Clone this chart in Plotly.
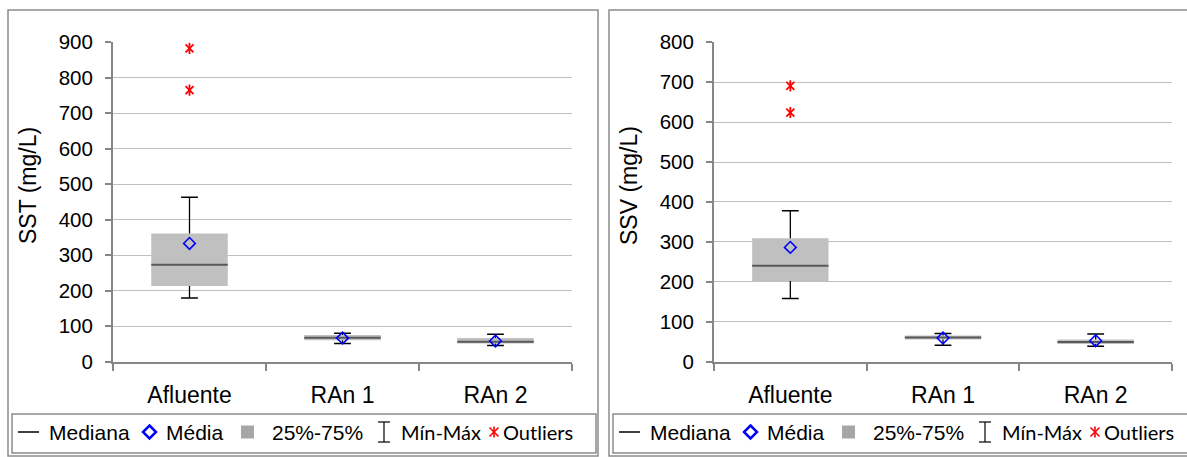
import plotly.graph_objects as go

W, H = 1187, 457

categories = ["Afluente", "RAn 1", "RAn 2"]

# SST (mg/L)
sst_min = [179, 51, 45]
sst_q1 = [213, 60, 51]
sst_median = [273, 67, 56]
sst_q3 = [361, 75, 66]
sst_max = [463, 80, 77]
sst_mean = [333, 66, 58]
sst_outliers = [[883, 765], [], []]

# SSV (mg/L)
ssv_min = [158, 41, 38]
ssv_q1 = [202, 55, 44]
ssv_median = [240, 60, 49]
ssv_q3 = [309, 65, 55]
ssv_max = [378, 70, 69]
ssv_mean = [286, 59, 52]
ssv_outliers = [[691, 624], [], []]

y_titles = ["SST (mg/L)", "SSV (mg/L)"]
y_ranges = [900, 800]
legend_labels = ["Mediana", "Média", "25%-75%", "Mín-Máx", "Outliers"]

BOX_W = 0.5


def px(x):
    return x / W


def py(y):
    return 1 - y / H


fig = go.Figure()


def add_chart(xa, ya, mn, q1, med, q3, mx, mean, outl):
    idx = list(range(len(categories)))
    # box 25%-75%
    fig.add_trace(go.Bar(x=idx, y=[b - a for a, b in zip(q1, q3)], base=q1,
                         width=BOX_W, marker=dict(color="#c0c0c0", line=dict(width=0)),
                         xaxis=xa, yaxis=ya, showlegend=False, hoverinfo="skip"))
    # whiskers
    wx, wy = [], []
    for i in idx:
        wx += [i, i, None, i, i, None]
        wy += [q3[i], mx[i], None, q1[i], mn[i], None]
    fig.add_trace(go.Scatter(x=wx, y=wy, mode="lines", line=dict(color="black", width=1.3),
                             xaxis=xa, yaxis=ya, showlegend=False, hoverinfo="skip"))
    fig.add_trace(go.Scatter(x=idx + idx, y=mx + mn, mode="markers",
                             marker=dict(symbol="line-ew-open", size=12, color="black",
                                         line=dict(color="black", width=1.5)),
                             xaxis=xa, yaxis=ya, showlegend=False, hoverinfo="skip"))
    # median
    mxs, mys = [], []
    for i in idx:
        mxs += [i - BOX_W / 2, i + BOX_W / 2, None]
        mys += [med[i], med[i], None]
    fig.add_trace(go.Scatter(x=mxs, y=mys, mode="lines", line=dict(color="#595959", width=2),
                             xaxis=xa, yaxis=ya, showlegend=False, hoverinfo="skip"))
    # mean
    fig.add_trace(go.Scatter(x=idx, y=mean, mode="markers",
                             marker=dict(symbol="diamond-open", size=9, color="#0000ff",
                                         line=dict(color="#0000ff", width=1.6)),
                             xaxis=xa, yaxis=ya, showlegend=False, hoverinfo="skip"))
    # outliers
    ox, oy = [], []
    for i in idx:
        for v in outl[i]:
            ox.append(i)
            oy.append(v)
    for sym in ["x-thin-open", "line-ns-open"]:
        fig.add_trace(go.Scatter(x=ox, y=oy, mode="markers",
                                 marker=dict(symbol=sym, size=8, color="#ff0000",
                                             line=dict(color="#ff0000", width=1.8)),
                                 xaxis=xa, yaxis=ya, showlegend=False, hoverinfo="skip"))


add_chart("x", "y", sst_min, sst_q1, sst_median, sst_q3, sst_max, sst_mean, sst_outliers)
add_chart("x2", "y2", ssv_min, ssv_q1, ssv_median, ssv_q3, ssv_max, ssv_mean, ssv_outliers)

AXC = "#868686"
FONT = "Liberation Sans, Arial, sans-serif"


def xaxis_cfg(x0, x1, anchor):
    return dict(domain=[px(x0), px(x1)], range=[-0.5, len(categories) - 0.5],
                tickmode="array", tickvals=list(range(len(categories))), ticktext=categories,
                ticks="", showline=True, linecolor=AXC, linewidth=2, showgrid=False,
                zeroline=False, tickfont=dict(family=FONT, size=23, color="black"),
                ticklabelstandoff=12, anchor=anchor, fixedrange=True, automargin=False,
                minor=dict(tickmode="array",
                           tickvals=[i - 0.5 for i in range(len(categories) + 1)],
                           ticks="outside", ticklen=7, tickcolor=AXC, tickwidth=2,
                           showgrid=False))


def yaxis_cfg(top, anchor):
    return dict(domain=[py(361.5), py(42.3)], range=[0, top], dtick=100,
                showline=True, linecolor=AXC, linewidth=2, ticks="outside", ticklen=6,
                tickcolor=AXC, tickwidth=1.5, gridcolor="#c0c0c0", gridwidth=1.2,
                zeroline=False, tickfont=dict(family=FONT, size=20.5, color="black"),
                ticklabelstandoff=8, anchor=anchor, fixedrange=True, automargin=False)


shapes = []
annotations = []

for k, dx in enumerate([0, 601]):
    # outer border
    shapes.append(dict(type="rect", xref="paper", yref="paper",
                       x0=px(8 + dx), x1=px(598 + dx), y0=py(456), y1=py(10),
                       line=dict(color="#8c8c8c", width=1.5)))
    # legend box
    shapes.append(dict(type="rect", xref="paper", yref="paper",
                       x0=px(12 + dx), x1=px(596 + dx), y0=py(453), y1=py(414),
                       line=dict(color="#8c8c8c", width=1.5)))
    # y title
    annotations.append(dict(text=y_titles[k], xref="paper", yref="paper",
                            x=px(28 + dx), y=py(186), textangle=-90, showarrow=False,
                            xanchor="center", yanchor="middle",
                            font=dict(family=FONT, size=23, color="black")))
    cy = 432
    # legend: Mediana
    shapes.append(dict(type="line", xref="paper", yref="paper",
                       x0=px(18 + dx), x1=px(39 + dx), y0=py(cy), y1=py(cy),
                       line=dict(color="#404040", width=2)))
    # Média diamond
    cx = 149.5 + dx
    shapes.append(dict(type="path", xref="paper", yref="paper",
                       path=f"M {px(cx)},{py(cy - 6.5)} L {px(cx + 6.5)},{py(cy)} "
                            f"L {px(cx)},{py(cy + 6.5)} L {px(cx - 6.5)},{py(cy)} Z",
                       line=dict(color="#0000ff", width=2.5)))
    # 25-75 square
    shapes.append(dict(type="rect", xref="paper", yref="paper",
                       x0=px(241 + dx), x1=px(254 + dx), y0=py(cy + 6.5), y1=py(cy - 6.5),
                       fillcolor="#a6a6a6", line=dict(width=0)))
    # Min-Max I-beam
    ix = 384 + dx
    shapes.append(dict(type="line", xref="paper", yref="paper",
                       x0=px(ix), x1=px(ix), y0=py(cy - 10), y1=py(cy + 10),
                       line=dict(color="black", width=1.2)))
    for yy in (cy - 10, cy + 10):
        shapes.append(dict(type="line", xref="paper", yref="paper",
                           x0=px(ix - 6), x1=px(ix + 6), y0=py(yy), y1=py(yy),
                           line=dict(color="black", width=1.2)))
    # outlier asterisk
    ax_, ay_ = 494 + dx, cy
    shapes.append(dict(type="line", xref="paper", yref="paper",
                       x0=px(ax_), x1=px(ax_), y0=py(ay_ - 5.5), y1=py(ay_ + 5.5),
                       line=dict(color="#ff0000", width=1.6)))
    for s in (1, -1):
        shapes.append(dict(type="line", xref="paper", yref="paper",
                           x0=px(ax_ - 4.5), x1=px(ax_ + 4.5),
                           y0=py(ay_ - 4.5 * s), y1=py(ay_ + 4.5 * s),
                           line=dict(color="#ff0000", width=1.6)))
    # legend texts
    for label, lx, fam, fs in [(legend_labels[0], 47, FONT, 21),
                               (legend_labels[1], 164, FONT, 21),
                               (legend_labels[2], 270, FONT, 21),
                               (legend_labels[3], 399, "Lato, sans-serif", 20),
                               (legend_labels[4], 501, "Lato, sans-serif", 20)]:
        annotations.append(dict(text=label, xref="paper", yref="paper",
                                x=px(lx + dx), y=py(cy), showarrow=False,
                                xanchor="left", yanchor="middle",
                                font=dict(family=fam, size=fs, color="black")))

fig.update_layout(
    width=W, height=H, margin=dict(l=0, r=0, t=0, b=0, autoexpand=False),
    paper_bgcolor="white", plot_bgcolor="white",
    xaxis=xaxis_cfg(113, 572, "y"), yaxis=yaxis_cfg(y_ranges[0], "x"),
    xaxis2=xaxis_cfg(714, 1172, "y2"), yaxis2=yaxis_cfg(y_ranges[1], "x2"),
    shapes=shapes, annotations=annotations, showlegend=False,
)

fig.write_html("out.html")
